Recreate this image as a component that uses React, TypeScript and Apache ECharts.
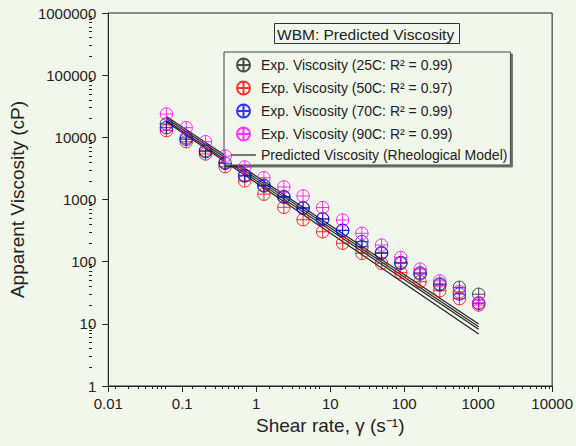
import React, { useEffect, useRef } from "react";
import * as echarts from "echarts";

const shearRate = [0.061, 0.113, 0.206, 0.38, 0.7, 1.27, 2.36, 4.3, 7.9, 14.7, 26.8, 49.4, 90, 164, 303, 557, 1016];
const visc25 = [16400, 9800, 6100, 3950, 2450, 1700, 1120, 740, 490, 320, 174, 140, 97, 66, 44, 38.7, 29.9];
const visc50 = [12800, 8500, 5400, 3370, 1990, 1220, 750, 473, 303, 198, 136, 94, 66.5, 47.6, 34.1, 25.4, 20.1];
const visc70 = [14300, 9300, 5870, 3820, 2390, 1650, 1090, 722, 482, 318, 210, 136, 94, 63.4, 42.2, 30.2, 21.4];
const visc90 = [23700, 14300, 8510, 5010, 3330, 2240, 1590, 1140, 743, 468, 286, 185, 117, 76, 48.9, 32.9, 21.9];

const predX = [0.061, 1016];
const predStart = [21600, 20100, 18600, 17800];
const predEnd = [9.95, 9.0, 8.17, 6.87];

const xDecades = [-2, -1, 0, 1, 2, 3];
const yDecades = [0, 1, 2, 3, 4, 5];
const minorMultipliers = [2, 3, 4, 5, 6, 7, 8, 9];

const seriesNames = [
  "Exp. Viscosity (25C: R² = 0.99)",
  "Exp. Viscosity (50C: R² = 0.97)",
  "Exp. Viscosity (70C: R² = 0.99)",
  "Exp. Viscosity (90C: R² = 0.99)",
];
const predName = "Predicted Viscosity (Rheological Model)";
const seriesColors = ["#222222", "#ff0000", "#0000ff", "#ff00ff"];

const BG = "#f2f7ec";
const FONT = "'Liberation Sans', Arial, sans-serif";
const SYMBOL = "path://M0,-10A10,10 0 1,1 0,10A10,10 0 1,1 0,-10ZM-10,0L10,0M0,-10L0,10";

const fmt = (v: number) => String(Number(Number(v).toPrecision(3)));
const minorLogs = (decades: number[]) =>
  decades.flatMap((d) => minorMultipliers.map((k) => d + Math.log10(k)));

export default function App() {
  const ref = useRef<HTMLDivElement>(null);
  useEffect(() => {
    document.body.style.margin = "0";
    document.body.style.background = BG;
    const chart = echarts.init(ref.current!, null, { renderer: "svg" });
    const expData = [visc25, visc50, visc70, visc90];
    const series: any[] = [];
    predStart.forEach((s, i) => {
      series.push({
        type: "line",
        name: predName,
        xAxisIndex: 0,
        yAxisIndex: 0,
        data: [
          [predX[0], s],
          [predX[1], predEnd[i]],
        ],
        symbol: "none",
        lineStyle: { color: "#222", width: 1.2 },
        itemStyle: { color: "#222" },
        z: 1,
      });
    });
    expData.forEach((arr, i) => {
      series.push({
        type: "scatter",
        name: seriesNames[i],
        xAxisIndex: 0,
        yAxisIndex: 0,
        data: arr.map((v, j) => [shearRate[j], v]),
        symbol: SYMBOL,
        symbolSize: 12.5,
        itemStyle: { color: "none", borderColor: seriesColors[i], borderWidth: 1 },
        z: 2 + i,
      });
    });
    const gridPos = { left: 92, right: 23, top: 13, bottom: 60 };
    const tickLine = { color: "#222", width: 1 };
    chart.setOption({
      animation: false,
      backgroundColor: BG,
      title: {
        text: "WBM: Predicted Viscosity",
        left: 274,
        top: 23,
        padding: [3, 6, 2, 3],
        borderColor: "#333",
        borderWidth: 1,
        textStyle: { fontFamily: FONT, fontSize: 15.5, fontWeight: "normal", color: "#222" },
      },
      legend: {
        orient: "vertical",
        left: 224,
        top: 52,
        itemWidth: 25,
        itemHeight: 13,
        itemGap: 5,
        padding: [4, 3, 3, 7],
        borderColor: "#444",
        borderWidth: 1,
        backgroundColor: BG,
        shadowColor: "rgba(0,0,0,0.55)",
        shadowOffsetX: 2,
        shadowOffsetY: 2,
        shadowBlur: 0,
        selectedMode: false,
        textStyle: { fontFamily: FONT, fontSize: 14, color: "#222" },
        data: [
          ...seriesNames,
          { name: predName, icon: "path://M0,0L25,0L25,1.2L0,1.2Z" },
        ],
      },
      grid: [
        { ...gridPos, show: true, borderColor: "#222", borderWidth: 1, backgroundColor: "transparent" },
        { ...gridPos, show: false },
      ],
      xAxis: [
        {
          type: "log",
          gridIndex: 0,
          logBase: 10,
          min: 0.01,
          max: 10000,
          name: "Shear rate, γ (s⁻¹)",
          nameLocation: "middle",
          nameGap: 30,
          nameTextStyle: { fontFamily: FONT, fontSize: 19, color: "#222" },
          axisLine: { show: true, onZero: false, lineStyle: tickLine },
          axisTick: { show: true, inside: false, length: 6, lineStyle: tickLine },
          minorTick: { show: false },
          splitLine: { show: false },
          axisLabel: { fontFamily: FONT, fontSize: 15, color: "#222", margin: 10, formatter: fmt },
        },
        {
          type: "value",
          gridIndex: 1,
          min: -2,
          max: 4,
          position: "bottom",
          axisLine: { show: false, onZero: false },
          axisTick: { show: true, inside: false, length: 3, lineStyle: tickLine, customValues: minorLogs(xDecades) },
          axisLabel: { show: false },
          splitLine: { show: false },
        },
      ],
      yAxis: [
        {
          type: "log",
          gridIndex: 0,
          logBase: 10,
          min: 1,
          max: 1000000,
          name: "Apparent Viscosity (cP)",
          nameLocation: "middle",
          nameGap: 55,
          nameTextStyle: { fontFamily: FONT, fontSize: 19, color: "#222" },
          axisLine: { show: true, onZero: false, lineStyle: tickLine },
          axisTick: { show: true, inside: false, length: 6, lineStyle: tickLine },
          minorTick: { show: false },
          splitLine: { show: false },
          axisLabel: { fontFamily: FONT, fontSize: 15, color: "#222", margin: 12, formatter: fmt },
        },
        {
          type: "value",
          gridIndex: 1,
          min: 0,
          max: 6,
          position: "left",
          axisLine: { show: false, onZero: false },
          axisTick: { show: true, inside: false, length: 3, lineStyle: tickLine, customValues: minorLogs(yDecades) },
          axisLabel: { show: false },
          splitLine: { show: false },
        },
      ],
      series,
    });
    return () => chart.dispose();
  }, []);
  return <div ref={ref} style={{ position: "absolute", left: 0, top: 0, width: 576, height: 446 }} />;
}
